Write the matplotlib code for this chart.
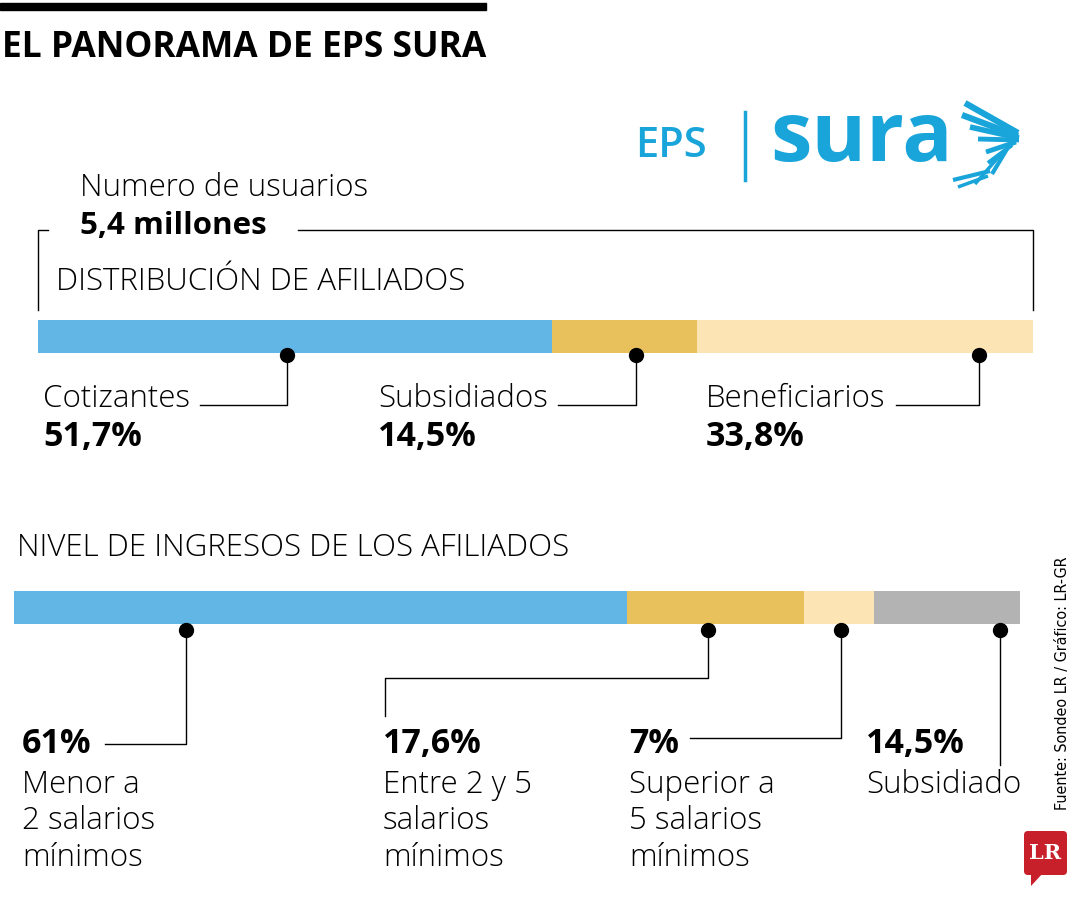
import matplotlib
matplotlib.use("Agg")
import matplotlib.pyplot as plt
from matplotlib.patches import Rectangle, FancyBboxPatch, Polygon

plt.rcParams['font.family'] = ['Open Sans', 'DejaVu Sans']

# datos
total_usuarios = "5,4 millones"
afiliados_cat = ["Cotizantes", "Subsidiados", "Beneficiarios"]
afiliados_pct = [51.7, 14.5, 33.8]
ingresos_cat = ["Menor a\n2 salarios\nmínimos", "Entre 2 y 5\nsalarios\nmínimos",
                "Superior a\n5 salarios\nmínimos", "Subsidiado"]
ingresos_pct = [61, 17.6, 7, 14.5]

c_azul = "#62b6e6"
c_oro = "#e8c15d"
c_crema = "#fde4b5"
c_gris = "#b3b3b3"
colores1 = [c_azul, c_oro, c_crema]
colores2 = [c_azul, c_oro, c_crema, c_gris]
c_logo = "#1aa5da"

FS = 22.5     # texto normal
FSB = 24.5    # porcentajes


def fmt(v):
    s = ("%.1f" % v).rstrip("0").rstrip(".")
    return s.replace(".", ",") + "%"


fig = plt.figure(figsize=(10.8, 9), dpi=100)
ax = fig.add_axes([0, 0, 1, 1])
ax.set_xlim(0, 1080)
ax.set_ylim(900, 0)
ax.axis("off")

# encabezado
ax.add_patch(Rectangle((0, 3), 486, 7, color="black"))
ax.text(2, 48, "EL PANORAMA DE EPS SURA", fontsize=25.5, fontweight="bold",
        va="center", ha="left")

# logo EPS sura
ax.text(635, 146, "EPS", fontsize=30, fontweight="semibold", color=c_logo,
        va="center", ha="left")
ax.plot([745, 745], [112, 180], color=c_logo, lw=2.5)
ax.text(770, 140, "sura", fontsize=60, fontweight="bold", color=c_logo,
        va="center", ha="left")
# ala (trazos decorativos del logo)
alas = [((965, 103), (1018, 133), 4.5),
        ((962, 115), (1018, 136), 4.5),
        ((970, 127), (1019, 138), 4.0),
        ((978, 139), (1019, 140), 3.5),
        ((1016, 142), (986, 152), 3.5),
        ((1012, 145), (988, 163), 3.0),
        ((1007, 149), (992, 174), 3.0),
        ((1002, 153), (975, 184), 2.5),
        ((990, 171), (953, 180), 3.0),
        ((988, 176), (958, 187), 2.5)]
for (xa, ya), (xb, yb), lw in alas:
    ax.plot([xa, xb], [ya, yb], color=c_logo, lw=lw, solid_capstyle="butt")

# bloque 1
ax.text(80, 188, "Numero de usuarios", fontsize=FS, fontweight="light",
        va="center", ha="left")
ax.text(80, 226, total_usuarios, fontsize=FS, fontweight="bold",
        va="center", ha="left")
ax.plot([48, 38, 38], [230, 230, 310], color="black", lw=1)
ax.plot([298, 1033, 1033], [230, 230, 310], color="black", lw=1)
ax.text(56, 282, "DISTRIBUCIÓN DE AFILIADOS", fontsize=FS, fontweight="light",
        va="center", ha="left")

x1_ini, x1_fin = 38, 1033
ancho1 = x1_fin - x1_ini
left = x1_ini
bordes1 = []
for p, c in zip(afiliados_pct, colores1):
    w = ancho1 * p / 100
    ax.add_patch(Rectangle((left, 320), w, 33, color=c, lw=0))
    bordes1.append((left, w))
    left += w

punto1 = [0.485, 0.58, 0.84]
texto1_x = [43, 378, 706]
for (l, w), f, tx, cat, p in zip(bordes1, punto1, texto1_x, afiliados_cat, afiliados_pct):
    px = l + w * f
    t = ax.text(tx, 399, cat, fontsize=FS, fontweight="light", va="center", ha="left")
    ax.text(tx, 437, fmt(p), fontsize=FSB, fontweight="bold", va="center", ha="left")
    fig.canvas.draw()
    bb = t.get_window_extent().transformed(ax.transData.inverted())
    ax.plot([bb.x1 + 10, px, px], [405, 405, 355], color="black", lw=1)
    ax.plot(px, 355, "o", color="black", ms=10)

# bloque 2
ax.text(17, 548, "NIVEL DE INGRESOS DE LOS AFILIADOS", fontsize=FS,
        fontweight="light", va="center", ha="left")
x2_ini, x2_fin = 14, 1019
ancho2 = x2_fin - x2_ini
left = x2_ini
bordes2 = []
for p, c in zip(ingresos_pct, colores2):
    w = ancho2 * p / 100
    ax.add_patch(Rectangle((left, 591), w, 33, color=c, lw=0))
    bordes2.append((left, w))
    left += w

punto2 = [0.28, 0.46, 0.53, 0.86]
texto2_x = [22, 383, 629, 866]
for (l, w), f, tx, cat, p in zip(bordes2, punto2, texto2_x, ingresos_cat, ingresos_pct):
    px = l + w * f
    ax.plot(px, 630, "o", color="black", ms=10)
    ax.text(tx, 744, fmt(p), fontsize=FSB, fontweight="bold", va="center", ha="left")
    ax.text(tx, 769, cat, fontsize=FS, fontweight="light", va="top", ha="left",
            linespacing=1.18)
# conectores
px = [l + w * f for (l, w), f in zip(bordes2, punto2)]
ax.plot([105, px[0], px[0]], [744, 744, 630], color="black", lw=1)
ax.plot([px[1], px[1], 385, 385], [630, 678, 678, 716], color="black", lw=1)
ax.plot([690, px[2], px[2]], [738, 738, 630], color="black", lw=1)
ax.plot([px[3], px[3]], [630, 765], color="black", lw=1)

# fuente
ax.text(1063, 683, "Fuente: Sondeo LR / Gráfico: LR-GR", fontsize=11.5,
        rotation=90, va="center", ha="center", fontstretch="condensed",
        family=["Liberation Sans Narrow", "DejaVu Sans"])

# logo LR
ax.add_patch(FancyBboxPatch((1024, 831), 43, 44,
                            boxstyle="round,pad=0,rounding_size=4",
                            color="#c8202a", lw=0))
ax.add_patch(Polygon([[1031, 873], [1043, 873], [1031, 886]],
                     closed=True, color="#c8202a", lw=0))
ax.text(1045.5, 853, "LR", fontsize=15, fontweight="bold", color="white",
        va="center", ha="center", family=["DejaVu Serif"])

fig.savefig("out.png", dpi=100)
